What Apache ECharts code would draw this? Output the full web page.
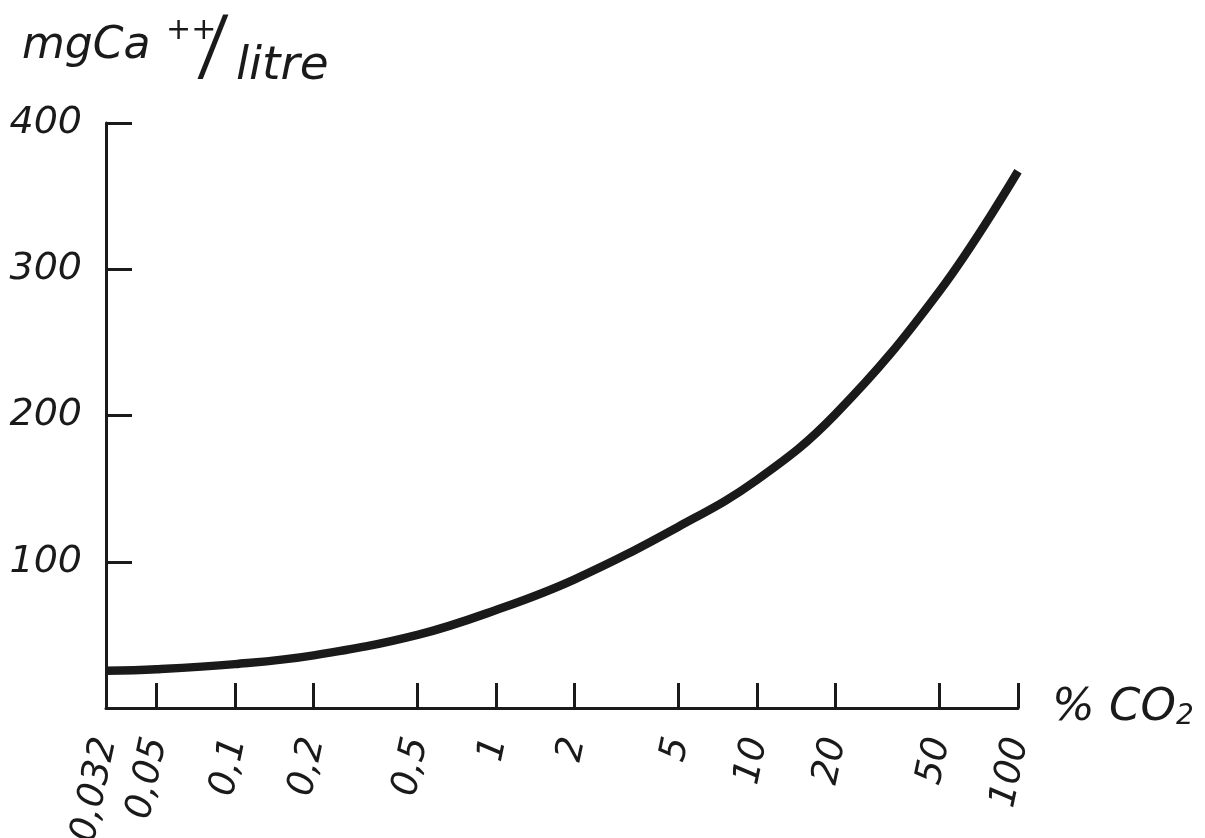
<!DOCTYPE html>
<html>
<head>
<meta charset="utf-8">
<title>mg Ca++ / litre vs % CO2</title>
<script src="https://cdn.jsdelivr.net/npm/echarts@6/dist/echarts.min.js"></script>
<style>
    html, body { margin: 0; padding: 0; background: #fff; }
    #chart { width: 1205px; height: 838px; }
</style>
</head>
<body>
<div id="chart"></div>
<script>
// axis ticks (% CO2) and their labels
const co2Ticks = [0.032, 0.05, 0.1, 0.2, 0.5, 1, 2, 5, 10, 20, 50, 100];
const xTickLabels = ['0,032', '0,05', '0,1', '0,2', '0,5', '1', '2', '5', '10', '20', '50', '100'];

// curve (mg Ca++ per litre at each tick)
const curveCo2 = [0.032, 0.05, 0.1, 0.2, 0.5, 1, 2, 5, 10, 20, 50, 100];
const curveCa = [25.5, 26.5, 30, 36, 50, 67, 88, 124, 156, 201, 285, 367];

const ink = '#1a1a1a';
const font = "'DejaVu Sans', 'Liberation Sans', sans-serif";

// the x axis is logarithmic, drawn on a value axis with log10 positions
const xTickPos = co2Ticks.map(v => Math.log10(v));
const lineData = curveCo2.map((v, i) => [Math.log10(v), curveCa[i]]);

const tickLabel = v => {
    const i = xTickPos.findIndex(p => Math.abs(p - v) < 1e-6);
    return i >= 0 ? xTickLabels[i] : '';
};

const chart = echarts.init(document.getElementById('chart'));

const option = {
    animation: false,
    backgroundColor: '#fff',
    grid: { left: 106, right: 187, top: 123, bottom: 130, outerBoundsMode: 'none' },
    graphic: [
        { type: 'text', x: 22, y: 47, style: { text: 'mgCa', font: 'italic 44px ' + font, fill: ink, verticalAlign: 'middle' } },
        { type: 'text', x: 166, y: 31, style: { text: '++', font: 'italic 30px ' + font, fill: ink, verticalAlign: 'middle' } },
        { type: 'text', x: 202, y: 52, scaleY: 1.25, style: { text: '/', font: 'italic 62px ' + font, fill: ink, verticalAlign: 'middle' } },
        { type: 'text', x: 236, y: 67, style: { text: 'litre', font: 'italic 47px ' + font, fill: ink, verticalAlign: 'middle' } }
    ],
    xAxis: {
        type: 'value',
        min: Math.log10(0.032),
        max: 2,
        splitLine: { show: false },
        axisLine: { lineStyle: { color: ink, width: 3 } },
        axisTick: {
            inside: true,
            length: 25,
            customValues: xTickPos,
            lineStyle: { color: ink, width: 3 }
        },
        axisLabel: {
            customValues: xTickPos,
            formatter: tickLabel,
            rotate: 78,
            margin: 30,
            color: ink,
            fontSize: 37,
            fontStyle: 'italic',
            fontFamily: font
        },
        name: '{p|% CO}{s|2}',
        nameLocation: 'end',
        nameGap: 34,
        nameTextStyle: {
            rich: {
                p: { fontSize: 45, fontStyle: 'italic', fontFamily: font, color: ink },
                s: { fontSize: 28, fontStyle: 'italic', fontFamily: font, color: ink, verticalAlign: 'bottom' }
            }
        }
    },
    yAxis: {
        type: 'value',
        min: 0,
        max: 400,
        interval: 100,
        splitLine: { show: false },
        axisLine: { show: true, onZero: false, lineStyle: { color: ink, width: 3 } },
        axisTick: { show: true, inside: true, length: 26, lineStyle: { color: ink, width: 3 } },
        axisLabel: {
            showMinLabel: false,
            margin: 24,
            color: ink,
            fontSize: 38,
            fontStyle: 'italic',
            fontFamily: font
        }
    },
    series: [
        {
            type: 'line',
            data: lineData,
            smooth: 0.4,
            symbol: 'none',
            lineStyle: { color: ink, width: 8.5, cap: 'butt' }
        }
    ]
};

chart.setOption(option);
</script>
</body>
</html>
